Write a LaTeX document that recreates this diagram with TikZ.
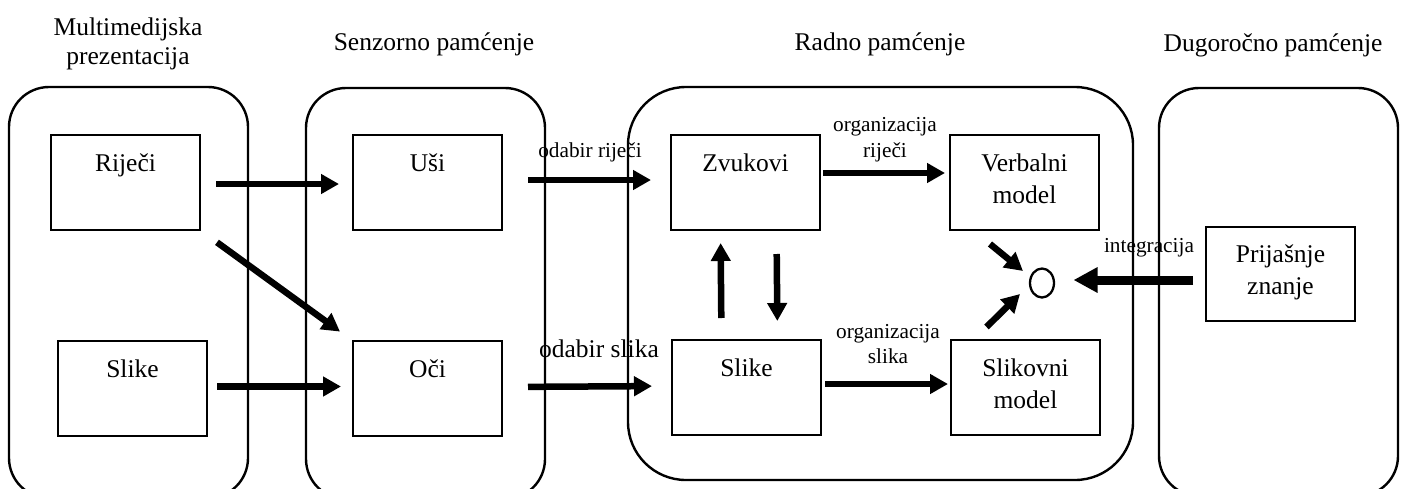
\documentclass[tikz,border=0pt]{standalone}
\usepackage{fontspec}
\setmainfont{Liberation Serif}
\usetikzlibrary{arrows.meta,shapes.geometric}
\newcommand\mainfs{\fontsize{25.5}{32}\selectfont}
\newcommand\titlefs{\fontsize{25.5}{29.5}\selectfont}
\newcommand\lblfs{\fontsize{21.3}{25.5}\selectfont}
\begin{document}
\begin{tikzpicture}[x=1pt,y=-1pt,
  container/.style={draw, line width=2.4pt, rounded corners=#1, anchor=north west, outer sep=0pt, inner sep=0pt},
  box/.style={draw, line width=2.5pt, minimum width=149pt, minimum height=95pt, anchor=north west, outer sep=0pt, inner sep=0pt},
  btxt/.style={anchor=north, inner sep=0pt, align=center, font=\mainfs},
  ttl/.style={inner sep=0pt, align=center, font=\titlefs},
  lbl/.style={inner sep=0pt, align=center, font=\lblfs},
  arr/.style={line width=6.5pt, -{Triangle[length=18pt,width=19pt]}},
  arrbig/.style={line width=9pt, -{Triangle[length=24pt,width=24pt]}}
]
\useasboundingbox (0,0) rectangle (1406,488);
% containers
\node[container=40pt, minimum width=239pt, minimum height=411pt] (c1) at (9,87) {};
\node[container=40pt, minimum width=239pt, minimum height=411pt] (c2) at (306,88) {};
\node[container=58pt, minimum width=505pt, minimum height=393pt] (c3) at (628,87) {};
\node[container=40pt, minimum width=239pt, minimum height=408pt] (c4) at (1159,88) {};
% titles
\node[ttl, anchor=north] (t1) at (128,17.6) {Multimedijska\\prezentacija};
\node[ttl, anchor=base] (t2) at (434,50) {Senzorno pamćenje};
\node[ttl, anchor=base] (t3) at (880,50) {Radno pamćenje};
\node[ttl, anchor=base] (t4) at (1273,51) {Dugoročno pamćenje};
% boxes
\node[box] (rijeci) at (51,135) {};
\node[box] (slikel) at (58,341) {};
\node[box] (usi) at (353,135) {};
\node[box] (oci) at (353,341) {};
\node[box] (zvukovi) at (671,135) {};
\node[box] (slikem) at (672,340) {};
\node[box] (verbalni) at (950,135) {};
\node[box] (slikovni) at (951,340) {};
\node[box, minimum height=94pt] (prijasnje) at (1206,227) {};
% box texts
\node[btxt] (rijecit) at ([shift={(0,19)}]rijeci.north) {Riječi};
\node[btxt] (sliket) at ([shift={(0,19)}]slikel.north) {Slike};
\node[btxt] (usit) at ([shift={(0,19)}]usi.north) {Uši};
\node[btxt] (ocit) at ([shift={(0,19)}]oci.north) {Oči};
\node[btxt] (zvukovit) at ([shift={(0,19)}]zvukovi.north) {Zvukovi};
\node[btxt] (slikemt) at ([shift={(0,19)}]slikem.north) {Slike};
\node[btxt] (verbalnit) at ([shift={(0,19)}]verbalni.north) {Verbalni\\model};
\node[btxt] (slikovnit) at ([shift={(0,19)}]slikovni.north) {Slikovni\\model};
\node[btxt] (prijasnjet) at ([shift={(0,18)}]prijasnje.north) {Prijašnje\\znanje};
% circle
\node[draw, ellipse, line width=2.3pt, minimum width=24pt, minimum height=29pt, inner sep=0pt, outer sep=0pt] (circ) at (1042,283) {};
% labels
\node[lbl, anchor=base] (l1) at (590,157) {odabir riječi};
\node[lbl, anchor=north] (l2) at (885,117.5) {organizacija\\riječi};
\node[ttl, anchor=base] (l3) at (599,357) {odabir slika};
\node[lbl, anchor=north] (l4) at (888,324) {organizacija\\slika};
\node[lbl, anchor=base] (l5) at (1149,252) {integracija};
% arrows
\draw[arr, shorten <=16pt, shorten >=14pt] ([shift={(0,1.5)}]rijeci.east) -- ([shift={(0,1.5)}]usi.west);
\draw[arr, shorten <=21pt, shorten >=16pt] (rijeci.south east) -- (oci.north west);
\draw[arr, shorten <=10pt, shorten >=12pt] ([shift={(0,-2)}]slikel.east) -- ([shift={(0,-2)}]oci.west);
\draw[arr, shorten <=26pt, shorten >=20pt] ([shift={(0,-2.5)}]usi.east) -- ([shift={(0,-2.5)}]zvukovi.west);
\draw[arr, shorten <=26pt, shorten >=20pt] ([shift={(0,-1.5)}]oci.east) -- ([shift={(0,-1.5)}]slikem.west);
\draw[arr, shorten <=3pt, shorten >=5pt] ([shift={(0,-9.5)}]zvukovi.east) -- ([shift={(0,-9.5)}]verbalni.west);
\draw[arr, shorten <=4pt, shorten >=3pt] ([shift={(0,-3.5)}]slikem.east) -- ([shift={(0,-3.5)}]slikovni.west);
\draw[arr, shorten <=22pt, shorten >=13pt] ([xshift=-25pt]slikem.north) -- ([xshift=-25pt]zvukovi.south);
\draw[arr, shorten <=24pt, shorten >=19pt] ([xshift=31pt]zvukovi.south) -- ([xshift=31pt]slikem.north);
\draw[arr] ([shift={(-34.5,14)}]verbalni.south) -- ([shift={(-19,-12)}]circ.center);
\draw[arr] ([shift={(-39,-13)}]slikovni.north) -- ([shift={(-22,11)}]circ.center);
\draw[arrbig, shorten <=13pt, shorten >=19.5pt] ([shift={(0,6)}]prijasnje.west) -- ([shift={(0,-3)}]circ.east);
\end{tikzpicture}
\end{document}
